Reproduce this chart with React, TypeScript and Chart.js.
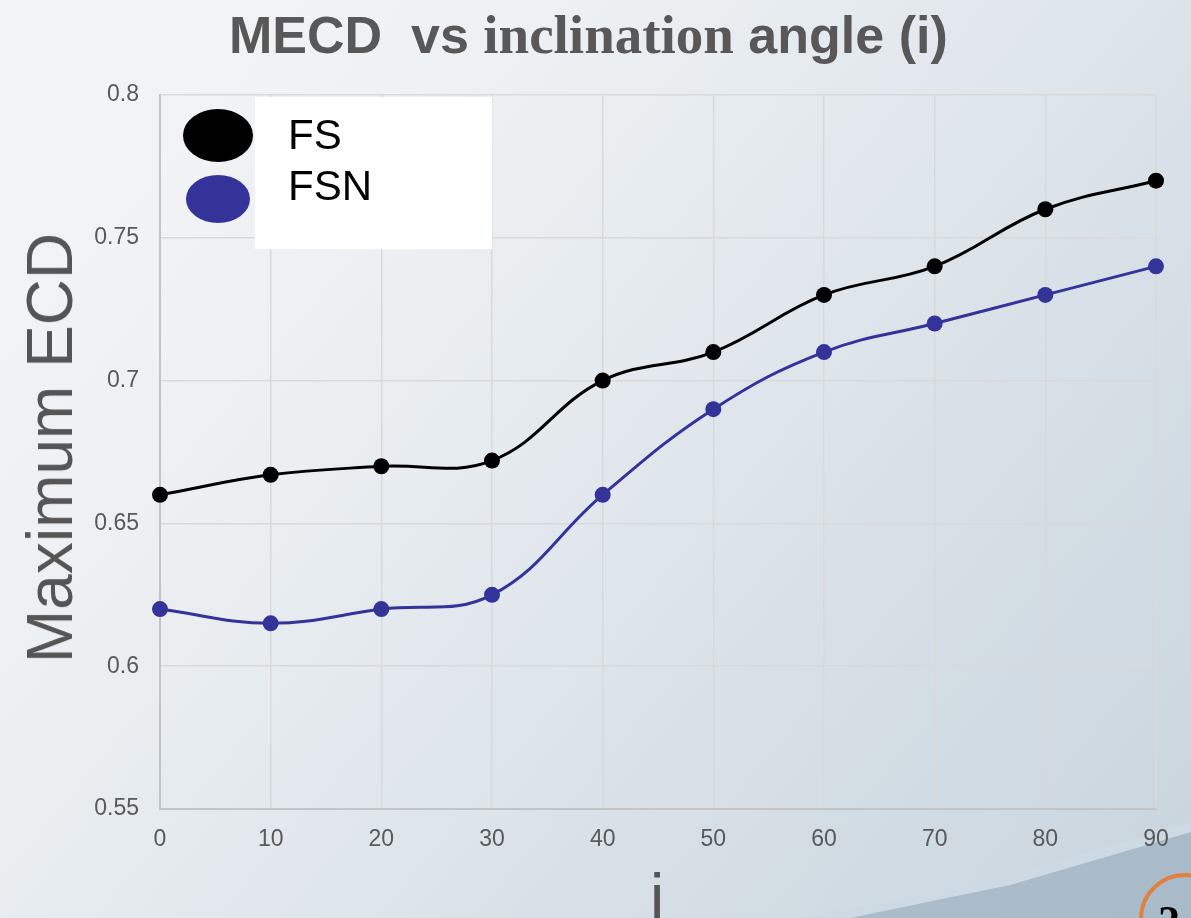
import React, { useEffect, useRef } from "react";
import { Chart, registerables } from "chart.js";

Chart.register(...registerables);

const angles = ["0", "10", "20", "30", "40", "50", "60", "70", "80", "90"];
const fsValues = [0.66, 0.667, 0.67, 0.672, 0.7, 0.71, 0.73, 0.74, 0.76, 0.77];
const fsnValues = [0.62, 0.615, 0.62, 0.625, 0.66, 0.69, 0.71, 0.72, 0.73, 0.74];
const yMin = 0.55;
const yMax = 0.8;
const yStep = 0.05;
const seriesNames = ["FS", "FSN"];
const seriesColors = ["#000000", "#333399"];

const W = 1191;
const H = 918;

export default function App() {
  const canvasRef = useRef<HTMLCanvasElement | null>(null);

  useEffect(() => {
    const canvas = canvasRef.current;
    if (!canvas) return;
    const mk = (i: number, data: number[]) => ({
      label: seriesNames[i],
      data,
      borderColor: seriesColors[i],
      backgroundColor: seriesColors[i],
      pointBackgroundColor: seriesColors[i],
      borderWidth: 3,
      pointRadius: 8,
      pointBorderWidth: 0,
      tension: 0.4,
      fill: false,
    });
    const chart = new Chart(canvas, {
      type: "line",
      data: {
        labels: angles,
        datasets: [mk(0, fsValues), mk(1, fsnValues)],
      },
      options: {
        responsive: false,
        animation: false,
        devicePixelRatio: 1,
        layout: { padding: { left: 0, right: 35, top: 95, bottom: 59 } },
        plugins: {
          legend: { display: false },
          title: { display: false },
          tooltip: { enabled: false },
        },
        scales: {
          x: {
            type: "category",
            offset: false,
            grid: { color: "#d9d9d9", lineWidth: 1.5, drawTicks: false },
            border: { display: true, color: "#c4c4c4", width: 2 },
            ticks: {
              color: "#595959",
              padding: 17,
              font: { family: "'Liberation Sans', Arial, sans-serif", size: 23 },
              maxRotation: 0,
              autoSkip: false,
            },
            afterFit: (scale: any) => {
              scale.height = 50;
            },
          },
          y: {
            min: yMin,
            max: yMax,
            ticks: {
              stepSize: yStep,
              color: "#595959",
              padding: 21,
              font: { family: "'Liberation Sans', Arial, sans-serif", size: 23 },
              callback: (v: any) => String(parseFloat(Number(v).toFixed(2))),
            },
            grid: { color: "#d9d9d9", lineWidth: 1.5, drawTicks: false },
            border: { display: true, color: "#c4c4c4", width: 2 },
            afterFit: (scale: any) => {
              scale.width = 160;
            },
          },
        },
      },
    });
    return () => chart.destroy();
  }, []);

  const sans = "'Liberation Sans', Arial, sans-serif";
  const serif = "'Liberation Serif', 'Times New Roman', serif";

  return (
    <div
      style={{
        position: "fixed",
        left: 0,
        top: 0,
        width: W,
        height: H,
        overflow: "hidden",
        background:
          "linear-gradient(130deg, #f3f4f6 0%, #eef1f3 28%, #e2e8ed 50%, #d6dfe6 72%, #c8d4dd 100%)",
      }}
    >
      {/* bottom-right decorative wedge */}
      <div
        style={{
          position: "absolute",
          left: 0,
          top: 0,
          width: W,
          height: H,
          background: "#cddae3",
          clipPath: "polygon(800px 918px, 1000px 878px, 1191px 822px, 1191px 918px)",
        }}
      />
      <div
        style={{
          position: "absolute",
          left: 0,
          top: 0,
          width: W,
          height: H,
          background: "linear-gradient(90deg, #b3c4d0, #a9bbc8)",
          clipPath: "polygon(850px 918px, 1010px 885px, 1191px 832px, 1191px 918px)",
        }}
      />
      <canvas
        ref={canvasRef}
        width={W}
        height={H}
        style={{ position: "absolute", left: 0, top: 0, width: W, height: H }}
      />
      {/* title */}
      <div
        style={{
          position: "absolute",
          left: 229,
          top: 9,
          whiteSpace: "pre",
          color: "#585858",
          fontWeight: "bold",
          lineHeight: "52px",
          height: 52,
        }}
      >
        <span style={{ fontFamily: sans, fontSize: 52 }}>MECD  vs </span>
        <span style={{ fontFamily: serif, fontSize: 55 }}>inclination</span>
        <span style={{ fontFamily: sans, fontSize: 52 }}> angle (i)</span>
      </div>
      {/* legend */}
      <div
        style={{
          position: "absolute",
          left: 255,
          top: 97,
          width: 237,
          height: 152,
          background: "#ffffff",
        }}
      />
      <div
        style={{
          position: "absolute",
          left: 183,
          top: 109,
          width: 70,
          height: 53,
          borderRadius: "50%",
          background: seriesColors[0],
        }}
      />
      <div
        style={{
          position: "absolute",
          left: 186,
          top: 175,
          width: 64,
          height: 48,
          borderRadius: "50%",
          background: seriesColors[1],
        }}
      />
      <div
        style={{
          position: "absolute",
          left: 288,
          top: 109,
          fontFamily: sans,
          fontSize: 42,
          lineHeight: "51px",
          color: "#000",
        }}
      >
        {seriesNames[0]}
        <br />
        {seriesNames[1]}
      </div>
      {/* y axis title */}
      <div
        style={{
          position: "absolute",
          left: 50,
          top: 448,
          transform: "translate(-50%, -50%) rotate(-90deg)",
          whiteSpace: "nowrap",
          fontFamily: sans,
          fontSize: 64,
          lineHeight: "64px",
          color: "#555555",
        }}
      >
        Maximum ECD
      </div>
      {/* x axis title */}
      <div
        style={{
          position: "absolute",
          left: 657,
          top: 865,
          transform: "translateX(-50%)",
          fontFamily: sans,
          fontSize: 64,
          lineHeight: "64px",
          color: "#555555",
        }}
      >
        i
      </div>
      {/* page number badge */}
      <div
        style={{
          position: "absolute",
          left: 1139,
          top: 873,
          width: 92,
          height: 92,
          boxSizing: "border-box",
          border: "4px solid #e2803f",
          borderRadius: "50%",
        }}
      />
      <div
        style={{
          position: "absolute",
          left: 1158,
          top: 900,
          fontFamily: serif,
          fontWeight: "bold",
          fontSize: 44,
          lineHeight: "44px",
          color: "#000",
        }}
      >
        2
      </div>
    </div>
  );
}
